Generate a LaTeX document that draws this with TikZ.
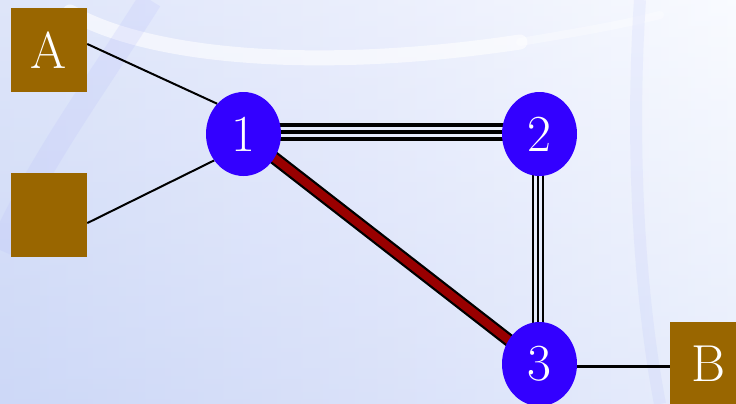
\documentclass[tikz,border=0pt]{standalone}
\usetikzlibrary{shapes.geometric}
\definecolor{nodeblue}{RGB}{51,0,255}
\definecolor{boxbrown}{RGB}{153,102,0}
\definecolor{edgered}{RGB}{153,0,0}
\definecolor{bgleft}{RGB}{205,216,247}
\definecolor{bgmid}{RGB}{224,230,251}
\definecolor{bgright}{RGB}{246,249,255}
\pgfdeclarelayer{bglayer}
\pgfdeclarelayer{edgelayer}
\pgfsetlayers{bglayer,edgelayer,main}
\begin{document}
\begin{tikzpicture}[x=1pt,y=-1pt,
  numnode/.style={ellipse,fill=nodeblue,minimum width=75pt,minimum height=84pt,inner sep=0pt,text=white,font=\fontsize{52}{52}\selectfont},
  boxnode/.style={rectangle,fill=boxbrown,minimum width=76pt,minimum height=84pt,inner sep=0pt,text=white,font=\fontsize{52}{52}\selectfont},
  thinedge/.style={black,line width=2pt},
  triedge/.style={black,line width=3.2pt},
  vtriedge/.style={black,line width=2.4pt}]
\useasboundingbox (0,0) rectangle (736,404);
\begin{pgfonlayer}{bglayer}
  \shade[left color=bgleft,right color=bgright,middle color=bgmid] (0,0) rectangle (736,404);
  \shade[top color=white,bottom color=bgleft,opacity=0.35] (0,0) rectangle (736,404);
  \draw[white,line width=15pt,opacity=0.6,line cap=round] (70,12) .. controls (150,58) and (320,72) .. (520,42);
  \draw[white,line width=8pt,opacity=0.35,line cap=round] (520,42) .. controls (580,32) and (620,25) .. (660,15);
  \draw[bgleft!70!blue!60,line width=24pt,opacity=0.22] (150,0) .. controls (100,80) and (40,160) .. (0,250);
  \draw[bgleft!80!blue,line width=12pt,opacity=0.12] (640,0) .. controls (630,150) and (640,300) .. (660,404);
\end{pgfonlayer}
\node[boxnode] (A) at (49,50) {A};
\node[boxnode] (E) at (49,215) {};
\node[boxnode] (B) at (708,364) {B};
\node[numnode] (n1) at (243.5,134) {1};
\node[numnode] (n2) at (539.5,134) {2};
\node[numnode] (n3) at (539.5,364) {3};
\begin{pgfonlayer}{edgelayer}
  \draw[thinedge] (A.9) -- (n1.131);
  \draw[thinedge] (E.-12) -- (n1.222);
  \draw[triedge] ([yshift=9pt]n1.center) -- ([yshift=9pt]n2.center);
  \draw[triedge] ([yshift=2pt]n1.center) -- ([yshift=2pt]n2.center);
  \draw[triedge] ([yshift=-5pt]n1.center) -- ([yshift=-5pt]n2.center);
  \draw[vtriedge] ([xshift=-6.5pt]n2.center) -- ([xshift=-6.5pt]n3.center);
  \draw[vtriedge] ([xshift=-1.5pt]n2.center) -- ([xshift=-1.5pt]n3.center);
  \draw[vtriedge] ([xshift=3.5pt]n2.center) -- ([xshift=3.5pt]n3.center);
  \draw[black,line width=13pt] (n1.center) -- (n3.center);
  \draw[edgered,line width=8.5pt] (n1.center) -- (n3.center);
  \draw[black,line width=3pt] ([yshift=-2pt]n3.center) -- ([yshift=-2pt]B.center);
\end{pgfonlayer}
\end{tikzpicture}
\end{document}
